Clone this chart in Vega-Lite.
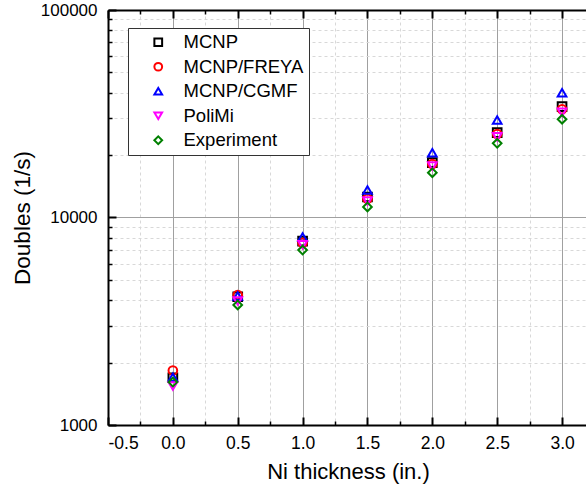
{
  "$schema": "https://vega.github.io/schema/vega-lite/v6.json",
  "autosize": {"type": "none"},
  "padding": {"left": 108, "top": 10, "right": 0, "bottom": 60},
  "width": 480,
  "height": 415,
  "background": "white",
  "config": {
    "view": {"stroke": null},
    "font": "Liberation Sans",
    "axis": {"labelFont": "Liberation Sans", "titleFont": "Liberation Sans", "titleFontWeight": "normal"}
  },
  "data": {
    "values": [
      {"x": 0.0, "series": "MCNP", "value": 1690},
      {"x": 0.5, "series": "MCNP", "value": 4150},
      {"x": 1.0, "series": "MCNP", "value": 7700},
      {"x": 1.5, "series": "MCNP", "value": 12560},
      {"x": 2.0, "series": "MCNP", "value": 18370},
      {"x": 2.5, "series": "MCNP", "value": 25640},
      {"x": 3.0, "series": "MCNP", "value": 34200},
      {"x": 0.0, "series": "MCNP/FREYA", "value": 1830},
      {"x": 0.5, "series": "MCNP/FREYA", "value": 4230},
      {"x": 1.0, "series": "MCNP/FREYA", "value": 7560},
      {"x": 1.5, "series": "MCNP/FREYA", "value": 12300},
      {"x": 2.0, "series": "MCNP/FREYA", "value": 18110},
      {"x": 2.5, "series": "MCNP/FREYA", "value": 25250},
      {"x": 3.0, "series": "MCNP/FREYA", "value": 33220},
      {"x": 0.0, "series": "MCNP/CGMF", "value": 1700},
      {"x": 0.5, "series": "MCNP/CGMF", "value": 4190},
      {"x": 1.0, "series": "MCNP/CGMF", "value": 8050},
      {"x": 1.5, "series": "MCNP/CGMF", "value": 13570},
      {"x": 2.0, "series": "MCNP/CGMF", "value": 20530},
      {"x": 2.5, "series": "MCNP/CGMF", "value": 29500},
      {"x": 3.0, "series": "MCNP/CGMF", "value": 39940},
      {"x": 0.0, "series": "PoliMi", "value": 1540},
      {"x": 0.5, "series": "PoliMi", "value": 3960},
      {"x": 1.0, "series": "PoliMi", "value": 7400},
      {"x": 1.5, "series": "PoliMi", "value": 12000},
      {"x": 2.0, "series": "PoliMi", "value": 17710},
      {"x": 2.5, "series": "PoliMi", "value": 24510},
      {"x": 3.0, "series": "PoliMi", "value": 32140},
      {"x": 0.0, "series": "Experiment", "value": 1610},
      {"x": 0.5, "series": "Experiment", "value": 3790},
      {"x": 1.0, "series": "Experiment", "value": 6970},
      {"x": 1.5, "series": "Experiment", "value": 11240},
      {"x": 2.0, "series": "Experiment", "value": 16440},
      {"x": 2.5, "series": "Experiment", "value": 22780},
      {"x": 3.0, "series": "Experiment", "value": 29750}
    ]
  },
  "resolve": {"axis": {"x": "independent", "y": "independent"}},
  "layer": [
    {
      "mark": {"type": "point", "opacity": 0},
      "encoding": {
        "x": {"field": "x", "type": "quantitative", "scale": {"domain": [-0.5, 3.2], "nice": false, "zero": false},
          "axis": {"orient": "bottom", "values": [-0.25, 0.25, 0.75, 1.25, 1.75, 2.25, 2.75, 3.25], "grid": true, "gridDash": [3, 3], "gridColor": "#d8d8d8", "gridWidth": 1, "ticks": true, "tickSize": -4, "tickColor": "black", "tickWidth": 1.5, "labels": false, "domain": false, "title": null}},
        "y": {"field": "value", "type": "quantitative", "scale": {"type": "log", "domain": [1000, 100000], "nice": false},
          "axis": {"orient": "left", "values": [2000, 3000, 4000, 5000, 6000, 7000, 8000, 9000, 20000, 30000, 40000, 50000, 60000, 70000, 80000, 90000], "grid": true, "gridDash": [3, 3], "gridColor": "#d8d8d8", "gridWidth": 1, "ticks": true, "tickSize": -4, "tickColor": "black", "tickWidth": 1.5, "labels": false, "domain": false, "title": null}}
      }
    },
    {
      "mark": {"type": "point", "opacity": 0},
      "encoding": {
        "x": {"field": "x", "type": "quantitative",
          "axis": {"orient": "top", "values": [-0.25, 0.25, 0.75, 1.25, 1.75, 2.25, 2.75, 3.25], "grid": false, "ticks": true, "tickSize": -4, "tickColor": "black", "tickWidth": 1.5, "labels": false, "domain": false, "title": null}},
        "y": {"field": "value", "type": "quantitative", "axis": null}
      }
    },
    {
      "mark": {"type": "point", "opacity": 0},
      "encoding": {
        "x": {"field": "x", "type": "quantitative",
          "axis": {"orient": "top", "values": [-0.5, 0, 0.5, 1, 1.5, 2, 2.5, 3], "grid": false, "ticks": true, "tickSize": -8, "tickColor": "black", "tickWidth": 2, "labels": false, "domain": true, "domainColor": "black", "domainWidth": 2, "title": null}},
        "y": {"field": "value", "type": "quantitative", "axis": null}
      }
    },
    {
      "mark": {"type": "point", "filled": false, "strokeWidth": 2, "size": 75, "opacity": 1},
      "encoding": {
        "x": {"field": "x", "type": "quantitative",
          "axis": {"orient": "bottom", "values": [-0.5, 0, 0.5, 1, 1.5, 2, 2.5, 3], "format": ".1f", "labelExpr": "replace(datum.label, '\u2212', '-')", "grid": true, "gridColor": "#a0a0a0", "gridWidth": 1, "ticks": true, "tickSize": -8, "tickColor": "black", "tickWidth": 2, "domain": true, "domainColor": "black", "domainWidth": 2, "labelFontSize": 17.5, "labelColor": "black", "labelPadding": 17, "title": "Ni thickness (in.)", "titleFontSize": 22, "titleColor": "black", "titlePadding": 10}},
        "y": {"field": "value", "type": "quantitative",
          "axis": {"orient": "left", "values": [1000, 10000, 100000], "format": "d", "grid": true, "gridColor": "#a0a0a0", "gridWidth": 1, "ticks": true, "tickSize": -8, "tickColor": "black", "tickWidth": 2, "domain": true, "domainColor": "black", "domainWidth": 2, "labelFontSize": 17, "labelColor": "black", "labelPadding": 19, "title": "Doubles (1/s)", "titleFontSize": 22.5, "titleColor": "black", "titlePadding": 6}},
        "color": {"field": "series", "type": "nominal",
          "scale": {"domain": ["MCNP", "MCNP/FREYA", "MCNP/CGMF", "PoliMi", "Experiment"], "range": ["#000000", "#ff0000", "#0000ff", "#ff00ff", "#008000"]},
          "legend": {"orient": "none", "legendX": 20, "legendY": 18, "title": null, "strokeColor": "#333", "fillColor": "white", "padding": 5, "labelFontSize": 18.5, "labelFont": "Liberation Sans", "labelColor": "black", "symbolOffset": 16, "labelOffset": 16, "rowPadding": 5.5, "symbolStrokeWidth": 2, "symbolSize": 60, "symbolFillColor": "transparent"}},
        "shape": {"field": "series", "type": "nominal",
          "scale": {"domain": ["MCNP", "MCNP/FREYA", "MCNP/CGMF", "PoliMi", "Experiment"], "range": ["square", "circle", "triangle-up", "triangle-down", "diamond"]},
          "legend": null}
      }
    }
  ]
}
